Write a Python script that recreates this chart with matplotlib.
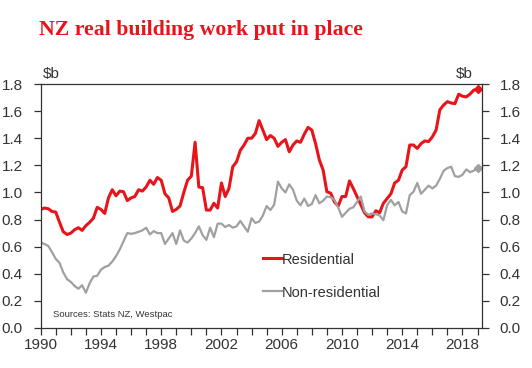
import numpy as np
import matplotlib
matplotlib.use("Agg")
import matplotlib.pyplot as plt
from matplotlib.ticker import MultipleLocator

# quarterly values, $b, 1990Q1 .. 2019Q1
residential = [0.875, 0.885, 0.88, 0.86, 0.855, 0.78, 0.71, 0.69, 0.70, 0.725,
               0.74, 0.72, 0.755, 0.78, 0.81, 0.89, 0.875, 0.845, 0.96, 1.02,
               0.975, 1.01, 1.005, 0.94, 0.96, 0.97, 1.02, 1.01, 1.04, 1.09,
               1.06, 1.11, 1.09, 0.99, 0.96, 0.86, 0.875, 0.90, 1.00, 1.09,
               1.12, 1.37, 1.04, 1.035, 0.87, 0.87, 0.92, 0.885, 1.07, 0.97,
               1.03, 1.19, 1.225, 1.31, 1.35, 1.40, 1.40, 1.435, 1.53, 1.46,
               1.39, 1.42, 1.40, 1.34, 1.37, 1.39, 1.30, 1.35, 1.38, 1.37,
               1.43, 1.48, 1.46, 1.36, 1.24, 1.165, 1.005, 0.995, 0.93, 0.90,
               0.97, 0.97, 1.085, 1.03, 0.97, 0.91, 0.85, 0.82, 0.82, 0.865,
               0.85, 0.92, 0.955, 0.99, 1.07, 1.09, 1.165, 1.19, 1.35, 1.35,
               1.325, 1.36, 1.38, 1.375, 1.41, 1.46, 1.61, 1.645, 1.67, 1.66,
               1.655, 1.725, 1.71, 1.705, 1.725, 1.755, 1.76]
non_residential = [0.63, 0.62, 0.605, 0.56, 0.51, 0.48, 0.41, 0.36, 0.34, 0.31,
                   0.29, 0.315, 0.26, 0.33, 0.38, 0.385, 0.43, 0.45, 0.46, 0.49,
                   0.53, 0.58, 0.64, 0.70, 0.695, 0.70, 0.71, 0.72, 0.74, 0.69,
                   0.715, 0.70, 0.70, 0.62, 0.66, 0.70, 0.62, 0.72, 0.645, 0.63,
                   0.66, 0.70, 0.75, 0.685, 0.65, 0.74, 0.67, 0.77, 0.77, 0.745,
                   0.76, 0.74, 0.75, 0.79, 0.75, 0.71, 0.81, 0.775, 0.785, 0.83,
                   0.90, 0.87, 0.91, 1.08, 1.03, 1.00, 1.06, 1.02, 0.94, 0.905,
                   0.955, 0.90, 0.915, 0.98, 0.92, 0.94, 0.97, 0.965, 0.945, 0.89,
                   0.82, 0.85, 0.88, 0.89, 0.93, 0.97, 0.86, 0.835, 0.845, 0.84,
                   0.83, 0.795, 0.905, 0.945, 0.905, 0.93, 0.86, 0.845, 0.98, 1.005,
                   1.07, 0.99, 1.02, 1.05, 1.03, 1.05, 1.10, 1.16, 1.18, 1.19,
                   1.12, 1.115, 1.13, 1.17, 1.15, 1.16, 1.18]
start_year = 1990
x_labels = ["1990", "1994", "1998", "2002", "2006", "2010", "2014", "2018"]
y_labels = ["0.0", "0.2", "0.4", "0.6", "0.8", "1.0", "1.2", "1.4", "1.6", "1.8"]

RED = "#e8141c"
GREY = "#a0a0a0"
INK = "#333333"

plt.rcParams["font.family"] = ["Liberation Sans", "DejaVu Sans"]

tt = start_year + np.arange(len(residential)) * 0.25

fig = plt.figure(figsize=(5.32, 3.68), dpi=100)
ax = fig.add_axes([0.0765, 0.1087, 0.829, 0.663])

ax.plot(tt, residential, color=RED, lw=2.2, label="Residential")
ax.plot(tt, non_residential, color=GREY, lw=1.6, label="Non-residential")
ax.plot(tt[-1], residential[-1], "D", color=RED, ms=4.5)
ax.plot(tt[-1], non_residential[-1], "D", color=GREY, ms=4.5)

ax.set_xlim(1990, 2019.28)
ax.set_ylim(0, 1.8)

ax.set_xticks([int(s) for s in x_labels])
ax.set_xticklabels(x_labels)
ax.xaxis.set_minor_locator(MultipleLocator(1))
ax.set_yticks([float(s) for s in y_labels])
ax.set_yticklabels(y_labels)

ax.tick_params(axis="both", which="both", direction="out", color=INK,
               labelcolor=INK, labelsize=11, width=0.9)
ax.tick_params(axis="x", which="both", length=5, pad=2)
ax.tick_params(axis="y", which="both", length=5, pad=8,
               right=True, labelright=True)
for sp in ax.spines.values():
    sp.set_color(INK)
    sp.set_linewidth(0.9)

fig.text(0.073, 0.918, "NZ real building work put in place", color=RED,
         family="Liberation Serif", weight="bold", fontsize=15.7, va="center")
fig.text(0.080, 0.80, "$b", color=INK, fontsize=11, va="center")
fig.text(0.889, 0.80, "$b", color=INK, fontsize=11, va="center", ha="right")
ax.text(0.028, 0.055, "Sources: Stats NZ, Westpac", transform=ax.transAxes,
        color=INK, fontsize=6.8, va="center")

ax.legend(loc="upper left", bbox_to_anchor=(0.491, 0.333), frameon=False,
          fontsize=10.5, handlelength=1.3, handletextpad=0.0,
          labelspacing=1.3, borderaxespad=0, labelcolor=INK)

fig.savefig("out.png", dpi=100)
